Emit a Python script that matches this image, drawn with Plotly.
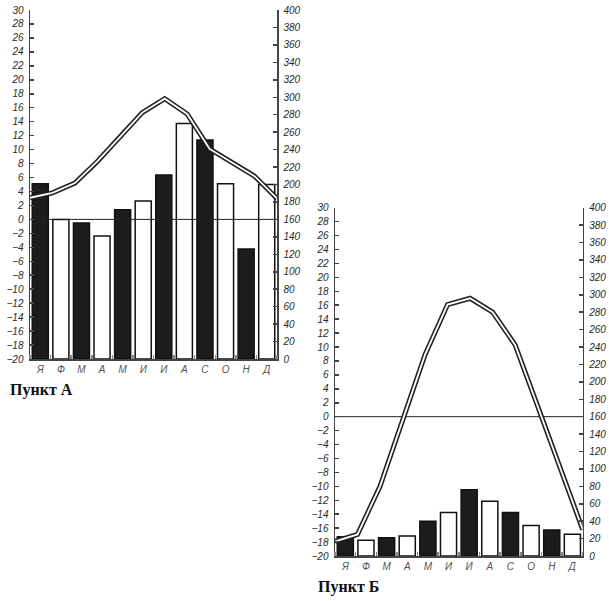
import plotly.graph_objects as go

months = ["Я", "Ф", "М", "А", "М", "И", "И", "А", "С", "О", "Н", "Д"]
temp_a = [3.1, 3.8, 5.2, 8.3, 11.8, 15.3, 17.3, 15.1, 10.1, 8.1, 6.2, 3.0]
precip_a = [201, 160, 156, 141, 171, 181, 211, 270, 251, 201, 126, 200]
temp_b = [-17.9, -16.9, -10.0, -0.5, 8.9, 16.1, 17.0, 15.0, 10.3, 1.5, -7.2, -16.2]
precip_b = [22, 18, 21, 23, 40, 50, 76, 63, 50, 35, 30, 25]
temp_ticks = list(range(-20, 31, 2))
precip_ticks = list(range(0, 401, 20))

W, H = 609, 601

def px(x):
    return x / W

def py(y):
    return 1 - y / H

idx = list(range(12))
bar_colors = ["#1c1c1c" if i % 2 == 0 else "white" for i in idx]

fig = go.Figure()

def add_panel(fig, temps, precs, xb, xl, yp, yt):
    fig.add_trace(go.Bar(x=idx, y=precs, xaxis=xb, yaxis=yp, width=0.78,
                         marker=dict(color=bar_colors, line=dict(color="#111", width=1.5)),
                         showlegend=False, hoverinfo="skip"))
    fig.add_trace(go.Scatter(x=idx, y=[0] * 12, xaxis=xl, yaxis=yt, mode="lines",
                             line=dict(color="#222", width=1), showlegend=False, hoverinfo="skip"))
    fig.add_trace(go.Scatter(x=idx, y=temps, xaxis=xl, yaxis=yt, mode="lines",
                             line=dict(color="#222", width=5), showlegend=False, hoverinfo="skip"))
    fig.add_trace(go.Scatter(x=idx, y=temps, xaxis=xl, yaxis=yt, mode="lines",
                             line=dict(color="white", width=1.8), showlegend=False, hoverinfo="skip"))

add_panel(fig, temp_a, precip_a, "x", "x2", "y", "y2")
add_panel(fig, temp_b, precip_b, "x3", "x4", "y3", "y4")

tickfont = dict(family="Liberation Sans", size=10, color="#2a2a2a", style="italic")
axcol = "#444"

def xaxes(dom, anchor):
    return dict(domain=dom, range=[-0.5, 11.5], tickvals=idx, ticktext=months, ticks="",
                showline=True, linecolor=axcol, linewidth=1.5, showgrid=False, zeroline=False,
                tickfont=dict(family="Liberation Sans", size=10, color="#555", style="italic"),
                anchor=anchor, fixedrange=True, automargin=False, ticklabeloverflow="allow",
                minor=dict(tick0=0.5, dtick=1, ticks="inside", ticklen=4, tickwidth=1.5,
                           tickcolor="#888", showgrid=False))

def yprec(dom, anchor):
    return dict(domain=dom, range=[0, 400], tickvals=precip_ticks, side="right", anchor=anchor,
                ticks="inside", ticklen=4, tickwidth=1.5, tickcolor=axcol, automargin=False,
                showline=True, linecolor=axcol, linewidth=1.5, showgrid=False, zeroline=False,
                tickfont=tickfont, ticklabelstandoff=3, ticklabeloverflow="allow")

def ytemp(over, anchor):
    return dict(overlaying=over, range=[-20, 30], tickvals=temp_ticks, side="left", anchor=anchor,
                ticks="inside", ticklen=4, tickwidth=1.5, tickcolor=axcol, automargin=False,
                showline=True, linecolor=axcol, linewidth=1.5, showgrid=False, zeroline=False,
                tickfont=tickfont, ticklabelstandoff=3, ticklabeloverflow="allow")

domA_x = [px(30), px(277)]
domA_y = [py(359), py(10)]
domB_x = [px(335), px(582.7)]
domB_y = [py(556), py(207.7)]

fig.update_layout(
    width=W, height=H, margin=dict(l=0, r=0, t=0, b=0, autoexpand=False),
    paper_bgcolor="white", plot_bgcolor="rgba(0,0,0,0)", bargap=0,
    xaxis=xaxes(domA_x, "y"),
    xaxis2=dict(overlaying="x", range=[0, 11], visible=False, anchor="y2", automargin=False),
    yaxis=yprec(domA_y, "x"),
    yaxis2=ytemp("y", "x"),
    xaxis3=xaxes(domB_x, "y3"),
    xaxis4=dict(overlaying="x3", range=[0, 11], visible=False, anchor="y4", automargin=False),
    yaxis3=yprec(domB_y, "x3"),
    yaxis4=ytemp("y3", "x3"),
    annotations=[
        dict(text="<b>Пункт А</b>", x=px(8), y=py(390), xref="paper", yref="paper",
             xanchor="left", yanchor="middle", showarrow=False,
             font=dict(family="Liberation Serif", size=16, color="#111")),
        dict(text="<b>Пункт Б</b>", x=px(316), y=py(587), xref="paper", yref="paper",
             xanchor="left", yanchor="middle", showarrow=False,
             font=dict(family="Liberation Serif", size=16, color="#111")),
    ],
)

fig.write_html(
    "out.html",
    config={"displayModeBar": False, "staticPlot": True},
    post_script="document.body.style.margin='0';document.body.style.overflow='hidden';"
                "document.documentElement.style.overflow='hidden';",
)
